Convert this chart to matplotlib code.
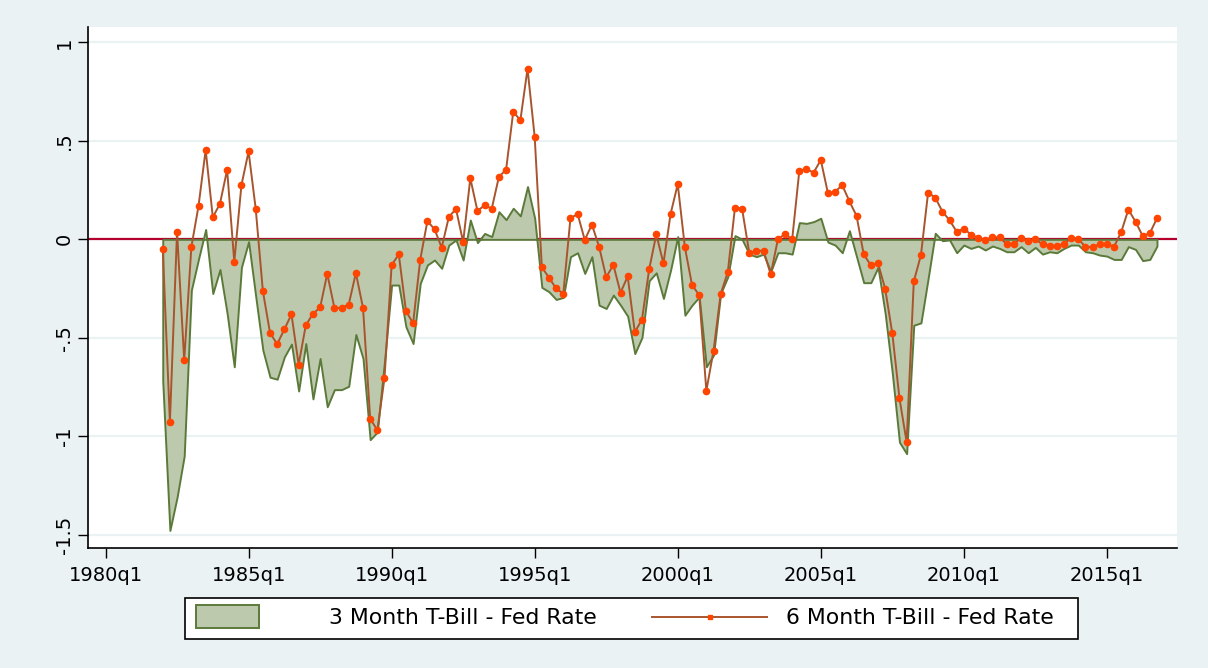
import numpy as np
import pandas as pd
import matplotlib
matplotlib.use("Agg")
import matplotlib.pyplot as plt
from matplotlib.patches import Rectangle
from matplotlib.legend_handler import HandlerPatch
from matplotlib.lines import Line2D

# quarterly spreads, 1982q1 .. 2016q4
quarters = pd.period_range("1982Q1", "2016Q4", freq="Q")

bill3_minus_fed = [
    -0.72, -1.478, -1.31, -1.10, -0.258, -0.10, 0.05, -0.275,
    -0.153, -0.376, -0.647, -0.142, -0.012, -0.29, -0.563, -0.70,
    -0.71, -0.597, -0.532, -0.77, -0.529, -0.81, -0.605, -0.85,
    -0.763, -0.763, -0.746, -0.483, -0.605, -1.017, -0.978, -0.62,
    -0.232, -0.232, -0.444, -0.529, -0.224, -0.13, -0.105, -0.147,
    -0.029, -0.003, -0.105, 0.098, -0.017, 0.03, 0.014, 0.14,
    0.10, 0.158, 0.119, 0.268, 0.107, -0.244, -0.266, -0.305,
    -0.295, -0.088, -0.068, -0.173, -0.088, -0.334, -0.351, -0.283,
    -0.334, -0.39, -0.58, -0.498, -0.21, -0.17, -0.3, -0.156,
    0.014, -0.385, -0.334, -0.292, -0.647, -0.588, -0.275, -0.19,
    0.019, 0.0, -0.075, -0.088, -0.075, -0.164, -0.068, -0.068,
    -0.075, 0.085, 0.081, 0.09, 0.107, -0.014, -0.029, -0.068,
    0.044, -0.088, -0.22, -0.22, -0.142, -0.376, -0.68, -1.03,
    -1.088, -0.436, -0.424, -0.2, 0.031, -0.007, -0.003, -0.068,
    -0.029, -0.046, -0.034, -0.054, -0.034, -0.046, -0.063, -0.063,
    -0.037, -0.068, -0.041, -0.075, -0.063, -0.068, -0.046, -0.029,
    -0.029, -0.063, -0.068, -0.08, -0.085, -0.102, -0.102, -0.037,
    -0.051, -0.108, -0.102, -0.034,
]

bill6_minus_fed = [
    -0.047, -0.927, 0.039, -0.615, -0.039, 0.169, 0.454, 0.112,
    0.181, 0.353, -0.114, 0.275, 0.446, 0.154, -0.263, -0.475,
    -0.532, -0.456, -0.381, -0.636, -0.436, -0.378, -0.346, -0.175,
    -0.348, -0.348, -0.331, -0.171, -0.348, -0.91, -0.969, -0.705,
    -0.131, -0.076, -0.363, -0.427, -0.103, 0.093, 0.051, -0.042,
    0.114, 0.154, -0.014, 0.31, 0.144, 0.173, 0.156, 0.318,
    0.353, 0.647, 0.605, 0.866, 0.52, -0.141, -0.195, -0.249,
    -0.276, 0.107, 0.129, -0.003, 0.075, -0.037, -0.192, -0.13,
    -0.271, -0.188, -0.471, -0.407, -0.153, 0.025, -0.122, 0.129,
    0.28, -0.041, -0.232, -0.283, -0.769, -0.566, -0.278, -0.166,
    0.161, 0.154, -0.069, -0.058, -0.058, -0.178, 0.0, 0.027,
    0.0, 0.349, 0.356, 0.339, 0.403, 0.234, 0.242, 0.275,
    0.193, 0.119, -0.076, -0.132, -0.122, -0.251, -0.478, -0.807,
    -1.029, -0.214, -0.08, 0.237, 0.212, 0.141, 0.097, 0.039,
    0.054, 0.024, 0.007, -0.003, 0.01, 0.01, -0.025, -0.025,
    0.008, -0.007, 0.0, -0.025, -0.032, -0.032, -0.025, 0.008,
    0.003, -0.039, -0.039, -0.025, -0.025, -0.037, 0.037, 0.151,
    0.09, 0.017, 0.031, 0.107,
]

tick_years = [1980, 1985, 1990, 1995, 2000, 2005, 2010, 2015]
ytick_vals = [-1.5, -1, -0.5, 0, 0.5, 1]
ytick_text = ["-1.5", "-1", "-.5", "0", ".5", "1"]

# quarter index, 0 = 1980q1
t = np.array([(p.year - 1980) * 4 + p.quarter - 1 for p in quarters])
v3 = np.array(bill3_minus_fed)
v6 = np.array(bill6_minus_fed)

bg = "#eaf2f3"
area_fc, area_ec = "#bcc9ad", "#5b7a3a"
line_c, dot_c = "#a8552e", "#ff4500"

fig = plt.figure(figsize=(12.08, 6.68), dpi=100, facecolor=bg)
ax = fig.add_axes([88 / 1208, 1 - 548 / 668, (1177 - 88) / 1208, (548 - 27) / 668])
ax.set_facecolor("white")

ax.axhline(0, color="#b4002f", lw=1.6, zorder=1)
ax.fill_between(t, 0, v3, facecolor=area_fc, edgecolor=area_ec, lw=1.4, zorder=2)
ax.plot(t, v6, color=line_c, lw=1.4, marker="o", ms=4.5,
        mfc=dot_c, mec=dot_c, zorder=3)

ax.set_xlim(-2.45, 149.8)
ax.set_ylim(-1.567, 1.078)

ax.set_xticks([(y - 1980) * 4 for y in tick_years])
ax.set_xticklabels([f"{y}q1" for y in tick_years])
ax.set_yticks(ytick_vals)
ax.set_yticklabels(ytick_text, rotation=90, va="center")

ax.yaxis.grid(True, color=bg, lw=1.6, zorder=0)
ax.set_axisbelow(True)
for s in ["top", "right"]:
    ax.spines[s].set_visible(False)
for s in ["left", "bottom"]:
    ax.spines[s].set_color("black")
    ax.spines[s].set_linewidth(1.2)
ax.tick_params(axis="both", direction="out", length=7, width=1, color="black",
               labelsize=14)
ax.tick_params(axis="x", pad=6)
ax.tick_params(axis="y", pad=3)


def short_rect(legend, orig_handle, xdescent, ydescent, width, height, fontsize):
    return Rectangle((-xdescent, -ydescent - 0.25 * height), width * 0.56, height * 1.5)


area_proxy = Rectangle((0, 0), 1, 1, facecolor=area_fc, edgecolor=area_ec, lw=1.4)
line_proxy = Line2D([], [], color=line_c, lw=1.4, marker="s", ms=2.5,
                    mfc=dot_c, mec=dot_c)
leg = fig.legend([area_proxy, line_proxy],
                 ["3 Month T-Bill - Fed Rate", "6 Month T-Bill - Fed Rate  "],
                 loc="center", bbox_to_anchor=(631.5 / 1208, 1 - 618.5 / 668),
                 ncol=2, fontsize=15.8, frameon=True, fancybox=False,
                 edgecolor="black", framealpha=1, facecolor="white",
                 handlelength=5.2, handletextpad=0.87, columnspacing=2.55,
                 borderpad=0.5,
                 handler_map={area_proxy: HandlerPatch(patch_func=short_rect)})
leg.get_frame().set_linewidth(1.2)

fig.savefig("out.png", dpi=100, facecolor=bg)
